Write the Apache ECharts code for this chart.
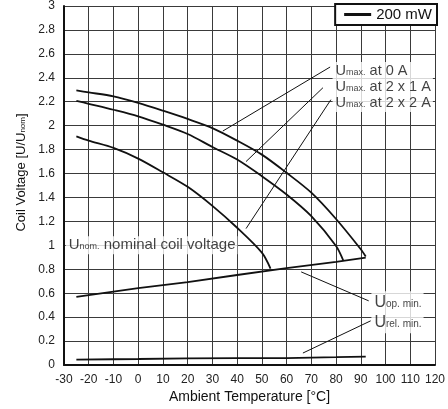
<!DOCTYPE html>
<html><head><meta charset="utf-8">
<script src="https://cdn.jsdelivr.net/npm/echarts@6/dist/echarts.min.js"></script>
<style>html,body{margin:0;padding:0;background:#fff}#c{width:448px;height:409px}</style>
</head><body><div id="c"></div>
<script>
// ---- data ----
const xRange = [-30, 120, 10];      // min, max, step (°C)
const yRange = [0, 3, 0.2];         // min, max, step (U/Unom)

const umax0Temp = [-25, -20, -10, 0, 10, 20, 30, 40, 50, 60, 70, 80, 90, 92];
const umax0     = [2.294, 2.278, 2.245, 2.19, 2.125, 2.056, 1.98, 1.875, 1.758, 1.606, 1.44, 1.22, 0.967, 0.906];

const umax1Temp = [-25, -20, -10, 0, 10, 20, 30, 40, 50, 60, 70, 80, 83];
const umax1     = [2.208, 2.183, 2.133, 2.078, 2.008, 1.93, 1.822, 1.717, 1.578, 1.425, 1.244, 0.994, 0.869];

const umax2Temp = [-25, -20, -10, 0, 10, 20, 30, 40, 50, 53.5];
const umax2     = [1.911, 1.875, 1.814, 1.725, 1.61, 1.489, 1.33, 1.147, 0.939, 0.806];

const uopTemp = [-25, 0, 20, 40, 60, 80, 92];
const uop     = [0.569, 0.642, 0.693, 0.752, 0.81, 0.862, 0.898];

const urelTemp = [-25, -10, 0, 20, 40, 60, 80, 92];
const urel     = [0.045, 0.048, 0.05, 0.055, 0.057, 0.058, 0.065, 0.07];

const legendName = '200 mW';
const yAxisTitle = '{t|Coil Voltage [U/U}{s|nom}{t|]}';
const xAxisTitle = 'Ambient Temperature [°C]';

// annotation texts with anchor (left-middle) in data coordinates
const noteTexts = [
  '{u|U}{s|max.}{t| at 0 A}\n{u|U}{s|max.}{t| at 2 x 1 A}\n{u|U}{s|max.}{t| at 2 x 2 A}',
  '{U|U}{S|op. min.}\n{U|U}{S|rel. min.}',
  '{n|U}{m|nom.}{n| nominal coil voltage}'
];
const noteAnchors = [[78.6, 2.323], [94.3, 0.44], [-29.3, 1.0]];

// leader lines [from, to] in data coordinates
const leaders = [
  [[77.6, 2.49], [34.2, 1.955]],
  [[74.7, 2.317], [43.6, 1.70]],
  [[77.9, 2.217], [43.6, 1.14]],
  [[93.2, 0.536], [65.9, 0.778]],
  [[94.0, 0.369], [66.6, 0.10]]
];

// ---- chart ----
const pairs = (xs, ys) => xs.map((x, i) => [x, ys[i]]);
const FONT = "'Liberation Sans', Arial, sans-serif";
const INK = '#111';

function curve(xs, ys, smooth) {
  return {
    name: legendName, type: 'line', data: pairs(xs, ys),
    smooth: smooth, showSymbol: false, symbol: 'none',
    lineStyle: { color: INK, width: 1.8 }, itemStyle: { color: INK },
    z: 3
  };
}

const chart = echarts.init(document.getElementById('c'), null, { renderer: 'canvas' });
chart.setOption({
  animation: false,
  backgroundColor: '#fff',
  textStyle: { fontFamily: FONT },
  grid: { left: 64, right: 9, top: 6, bottom: 43, containLabel: false },
  legend: {
    data: [{ name: legendName, icon: 'rect' }],
    right: 11, top: 4,
    itemWidth: 27, itemHeight: 3,
    borderColor: INK, borderWidth: 2, borderRadius: 0,
    backgroundColor: '#fff',
    padding: [3, 5, 3, 9],
    textStyle: { fontSize: 15, color: INK, fontFamily: FONT },
    selectedMode: false
  },
  xAxis: {
    type: 'value', min: xRange[0], max: xRange[1], interval: xRange[2],
    name: xAxisTitle, nameLocation: 'middle', nameGap: 25, nameMoveOverlap: false,
    nameTextStyle: { fontSize: 14, color: INK, fontFamily: FONT },
    axisLine: { show: true, onZero: false, lineStyle: { color: INK, width: 2 } },
    axisTick: { show: false },
    axisLabel: { fontSize: 12, color: '#222', margin: 9, fontFamily: FONT },
    splitLine: { show: true, lineStyle: { color: '#3a3a3a', width: 1 } }
  },
  yAxis: {
    type: 'value', min: yRange[0], max: yRange[1], interval: yRange[2],
    name: yAxisTitle, nameLocation: 'middle', nameGap: 35, nameMoveOverlap: false,
    nameTextStyle: {
      fontSize: 13, color: INK, fontFamily: FONT,
      padding: [0, 0, 0, 26],
      rich: {
        t: { fontSize: 13, lineHeight: 16, color: INK, fontFamily: FONT },
        s: { fontSize: 8, lineHeight: 16, height: 19, verticalAlign: 'top', color: INK, fontFamily: FONT }
      }
    },
    axisLine: { show: true, onZero: false, lineStyle: { color: INK, width: 2 } },
    axisTick: { show: false },
    axisLabel: { fontSize: 12, color: '#222', margin: 9, fontFamily: FONT },
    splitLine: { show: true, lineStyle: { color: '#3a3a3a', width: 1 } }
  },
  series: [
    curve(umax0Temp, umax0, 0.3),
    curve(umax1Temp, umax1, 0.3),
    curve(umax2Temp, umax2, 0.3),
    curve(uopTemp, uop, false),
    curve(urelTemp, urel, false),
    {
      name: 'notes', type: 'scatter', symbolSize: 0, z: 4,
      silent: true,
      data: noteAnchors.map((p, i) => ({ value: p, label: { formatter: noteTexts[i] } })),
      label: {
        show: true, position: 'right', distance: 0,
        backgroundColor: '#fff', padding: [1, 2, 1, 3],
        color: INK, fontFamily: FONT,
        rich: {
          u: { fontSize: 14.5, lineHeight: 16, color: INK, fontFamily: FONT },
          s: { fontSize: 9, lineHeight: 16, height: 19, verticalAlign: 'top', color: INK, fontFamily: FONT },
          t: { fontSize: 14.5, lineHeight: 16, color: INK, fontFamily: FONT },
          U: { fontSize: 16, lineHeight: 20, color: INK, fontFamily: FONT },
          S: { fontSize: 10, lineHeight: 20, height: 23, verticalAlign: 'top', color: INK, fontFamily: FONT },
          n: { fontSize: 15, lineHeight: 16, color: INK, fontFamily: FONT },
          m: { fontSize: 9, lineHeight: 16, height: 19, verticalAlign: 'top', color: INK, fontFamily: FONT }
        }
      },
      labelLayout: { hideOverlap: false },
      markLine: {
        silent: true, symbol: 'none', animation: false,
        label: { show: false },
        lineStyle: { color: INK, width: 1, type: 'solid' },
        data: leaders.map(l => [{ coord: l[0] }, { coord: l[1] }])
      }
    }
  ]
});
</script>
</body></html>
